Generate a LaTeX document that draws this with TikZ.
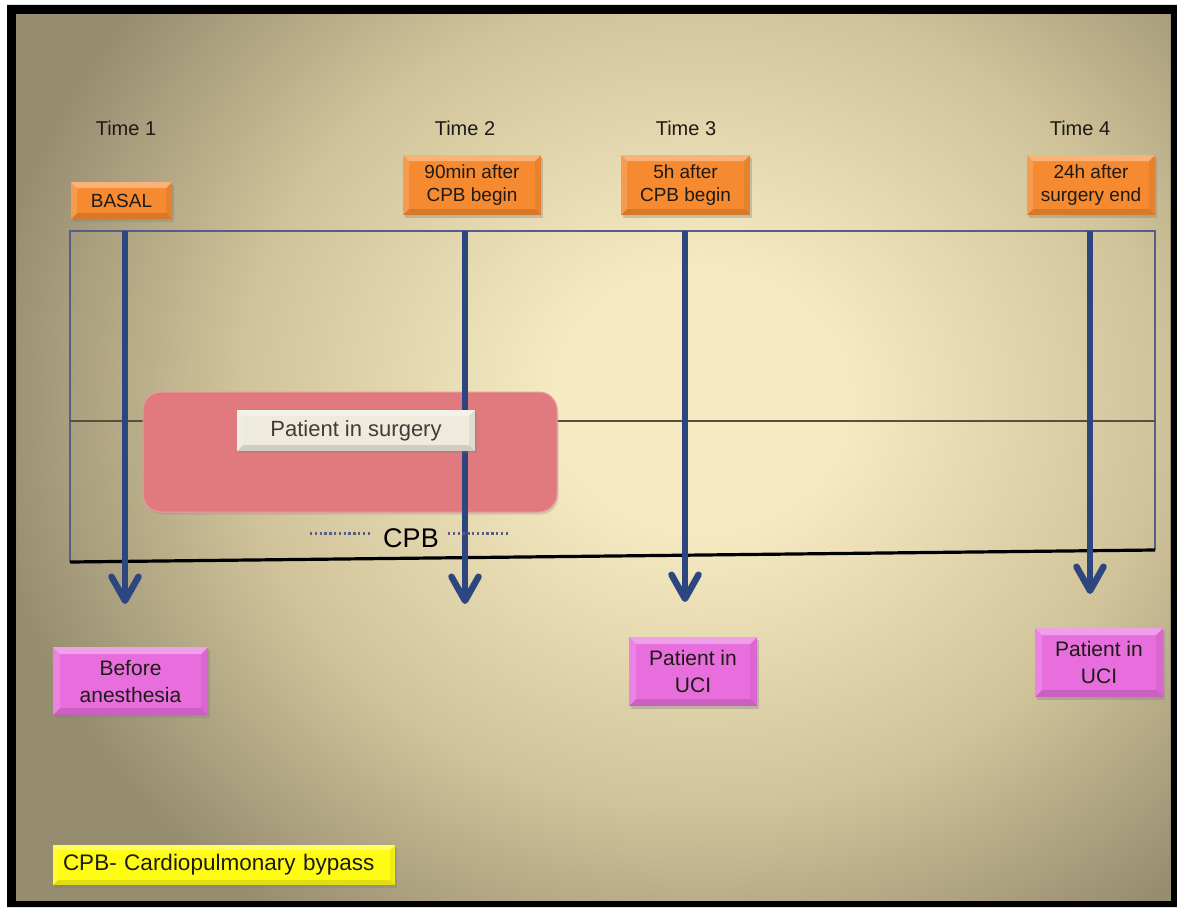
\documentclass[tikz,border=0pt]{standalone}
\usepackage{fontspec}
\setmainfont{Liberation Sans}
\usetikzlibrary{arrows.meta,shadows}
\definecolor{bgl}{RGB}{246,234,194}
\definecolor{bgm}{RGB}{208,195,154}
\definecolor{bgd}{RGB}{150,140,112}
\definecolor{arrowblue}{RGB}{46,70,128}
\definecolor{framecol}{RGB}{84,94,134}
\definecolor{midline}{RGB}{88,80,62}
\definecolor{orangeF}{RGB}{246,138,48}
\definecolor{magF}{RGB}{232,110,222}
\definecolor{pinkbox}{RGB}{224,122,126}
\definecolor{creamF}{RGB}{238,234,220}
\definecolor{legendY}{RGB}{255,252,20}
\definecolor{txt}{RGB}{30,26,22}
\pgfdeclareradialshading{bgshade}{\pgfpoint{0bp}{0bp}}{color(0bp)=(bgl); color(5bp)=(bgl); color(16bp)=(bgm); color(25bp)=(bgd); color(50bp)=(bgd)}
\tikzset{
  bevel/.style={path picture={
    \fill[white, opacity=0.35] (path picture bounding box.north west) -- (path picture bounding box.north east)
      -- ([xshift=-#1,yshift=-#1]path picture bounding box.north east) -- ([xshift=#1,yshift=-#1]path picture bounding box.north west) -- cycle;
    \fill[white, opacity=0.15] (path picture bounding box.north west) -- (path picture bounding box.south west)
      -- ([xshift=#1,yshift=#1]path picture bounding box.south west) -- ([xshift=#1,yshift=-#1]path picture bounding box.north west) -- cycle;
    \fill[black, opacity=0.06] (path picture bounding box.north east) -- (path picture bounding box.south east)
      -- ([xshift=-#1,yshift=#1]path picture bounding box.south east) -- ([xshift=-#1,yshift=-#1]path picture bounding box.north east) -- cycle;
    \fill[black, opacity=0.12] (path picture bounding box.south west) -- (path picture bounding box.south east)
      -- ([xshift=-#1,yshift=#1]path picture bounding box.south east) -- ([xshift=#1,yshift=#1]path picture bounding box.south west) -- cycle;
  }},
  shad/.style={drop shadow={opacity=0.35, shadow xshift=1.5pt, shadow yshift=-2.5pt}},
  timelbl/.style={text=txt, font=\fontsize{20}{24}\selectfont, inner sep=0pt},
  obox/.style={fill=orangeF, bevel=6pt, shad,
    text=txt, font=\fontsize{19}{23}\selectfont, align=center, inner sep=0pt},
  mbox/.style={fill=magF, bevel=7pt, shad,
    text=txt, font=\fontsize{21}{27}\selectfont, align=center, inner sep=0pt,
    minimum width=128pt, minimum height=69pt},
  arr/.style={arrowblue, line width=6.5pt, -{Straight Barb[length=24pt,width=27pt,round]}},
  dotline/.style={framecol, line width=3pt, dash pattern=on 2.4pt off 2.4pt},
}
\begin{document}
\begin{tikzpicture}[x=1pt,y=-1pt]
\useasboundingbox (0,0) rectangle (1177,907);
\fill[white] (0,0) rectangle (1177,907);
\fill[bgd] (15,13) rectangle (1172,902);
\begin{scope}
  \clip (17,15) rectangle (1170,900);
  \shade[shading=bgshade] (700,400) ellipse [x radius=720pt, y radius=640pt];
\end{scope}
\fill[black, even odd rule] (7,5) rectangle (1177,907) (15,13) rectangle (1172,902);
\draw[black, line width=2pt] (15,13) rectangle (1172,902);

% frame
\coordinate (fbl) at (70,562);
\coordinate (ftl) at (70,231);
\coordinate (ftr) at (1155,231);
\coordinate (fbr) at (1155,550);
\coordinate (ml) at (70,421);
\coordinate (mr) at (1155,421);
\draw[framecol, line width=1.2pt] (fbl) -- (ftl) -- (ftr) -- (fbr);
\draw[midline, line width=1.1pt] (ml) -- (mr);
\draw[black, line width=3.2pt] (fbl) -- (fbr);

% surgery band
\node[fill=pinkbox, draw=pinkbox!75!white, line width=1pt, rounded corners=18pt,
  minimum width=414pt, minimum height=120pt,
  drop shadow={opacity=0.25, shadow xshift=1.5pt, shadow yshift=-2.5pt}] (surg) at (350,452) {};

% time labels
\node[timelbl] (T1) at (126,128) {Time 1};
\node[timelbl] (T2) at (465,128) {Time 2};
\node[timelbl] (T3) at (686,128) {Time 3};
\node[timelbl] (T4) at (1080,128) {Time 4};

% orange boxes
\node[obox, minimum width=101pt, minimum height=37pt] (o1) at (121.5,200.5) {BASAL};
\node[obox, minimum width=138pt, minimum height=60pt] (o2) at (472,185) {90min after\\CPB begin};
\node[obox, minimum width=129pt, minimum height=60pt] (o3) at (685.5,185) {5h after\\CPB begin};
\node[obox, minimum width=128pt, minimum height=60pt] (o4) at (1091,185) {24h after\\surgery end};

% arrows
\coordinate (a1s) at (125,231); \coordinate (a1e) at (125,604);
\coordinate (a2s) at (465,231); \coordinate (a2e) at (465,604);
\coordinate (a3s) at (685,231); \coordinate (a3e) at (685,602);
\coordinate (a4s) at (1090,231); \coordinate (a4e) at (1090,594);
\draw[arr] (a1s) -- (a1e);
\draw[arr] (a2s) -- (a2e);
\draw[arr] (a3s) -- (a3e);
\draw[arr] (a4s) -- (a4e);

% patient in surgery label
\node[fill=creamF, bevel=6pt,
  minimum width=238pt, minimum height=41pt, inner sep=0pt,
  drop shadow={opacity=0.3, shadow xshift=1.5pt, shadow yshift=-2pt},
  text=txt!85!white, font=\fontsize{22}{26}\selectfont] (pis) at (356,430.5) {Patient in surgery};

% CPB
\node[text=black, font=\fontsize{27}{30}\selectfont, inner sep=0pt] (cpb) at (411,538) {CPB};
\coordinate (d1a) at (310,533); \coordinate (d1b) at (372,533);
\coordinate (d2a) at (448,533); \coordinate (d2b) at (508,533);
\draw[dotline] (d1a) -- (d1b);
\draw[dotline] (d2a) -- (d2b);

% magenta boxes
\node[mbox, minimum width=155pt, minimum height=68pt] (m1) at (130.5,681) {Before\\anesthesia};
\node[mbox] (m3) at (693,671.5) {Patient in\\UCI};
\node[mbox] (m4) at (1099,662.5) {Patient in\\UCI};

% legend
\node[fill=legendY, bevel=5pt, shad,
  minimum width=342pt, minimum height=40pt, inner sep=0pt, text width=322pt, align=left,
  text=txt, font=\fontsize{22.5}{26}\selectfont] (leg) at (224,865) {CPB- Cardiopulmonary bypass};
\end{tikzpicture}
\end{document}
